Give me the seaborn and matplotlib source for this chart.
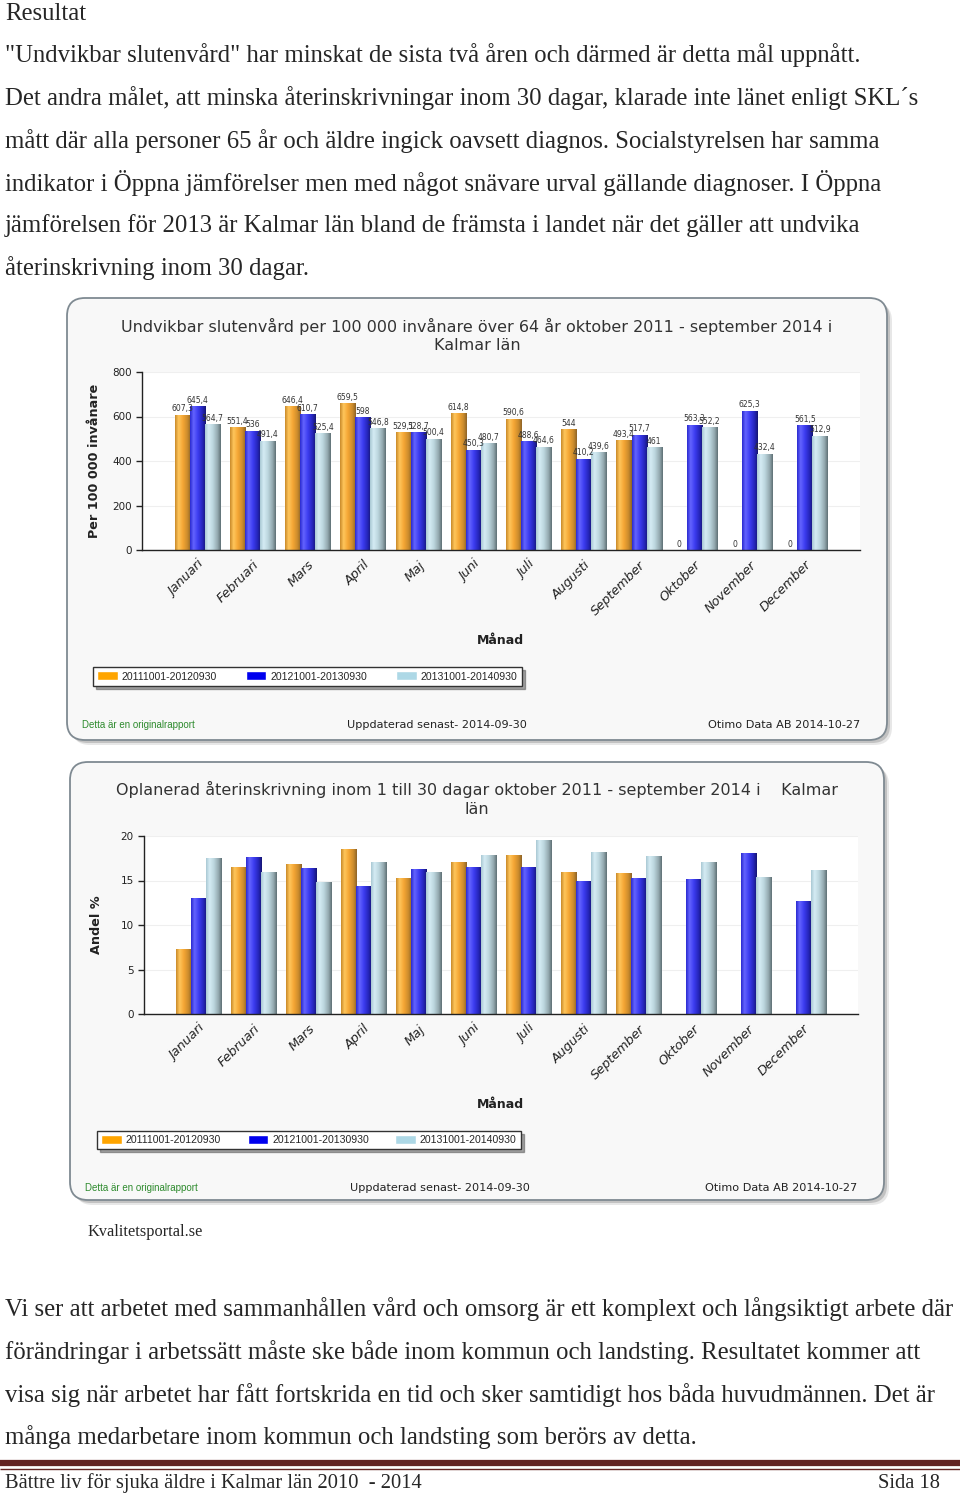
import numpy as np
import pandas as pd
import matplotlib
matplotlib.use("Agg")
import matplotlib.pyplot as plt
import seaborn as sns
from matplotlib import font_manager
from matplotlib.patches import FancyBboxPatch
from matplotlib.colors import LinearSegmentedColormap

# data
months = ["Januari", "Februari", "Mars", "April", "Maj", "Juni", "Juli",
          "Augusti", "September", "Oktober", "November", "December"]
periods = ["20111001-20120930", "20121001-20130930", "20131001-20140930"]

rate_p1 = [607.3, 551.4, 646.4, 659.5, 529.1, 614.8, 590.6, 544, 493.4, 0, 0, 0]
rate_p2 = [645.4, 536, 610.7, 598, 528.7, 450.3, 488.6, 410.2, 517.7, 563.3, 625.3, 561.5]
rate_p3 = [564.7, 491.4, 525.4, 546.8, 500.4, 480.7, 464.6, 439.6, 461, 552.2, 432.4, 512.9]

share_p1 = [7.3, 16.5, 16.8, 18.5, 15.3, 17.1, 17.9, 16.0, 15.8, 0, 0, 0]
share_p2 = [13.0, 17.6, 16.4, 14.4, 16.3, 16.5, 16.5, 14.9, 15.3, 15.2, 18.1, 12.7]
share_p3 = [17.5, 15.9, 14.8, 17.1, 15.9, 17.9, 19.6, 18.2, 17.8, 17.1, 15.4, 16.2]

intro_lines = [
    '"Undvikbar slutenvård" har minskat de sista två åren och därmed är detta mål uppnått.',
    'Det andra målet, att minska återinskrivningar inom 30 dagar, klarade inte länet enligt SKL´s',
    'mått där alla personer 65 år och äldre ingick oavsett diagnos. Socialstyrelsen har samma',
    'indikator i Öppna jämförelser men med något snävare urval gällande diagnoser. I Öppna',
    'jämförelsen för 2013 är Kalmar län bland de främsta i landet när det gäller att undvika',
    'återinskrivning inom 30 dagar.',
]
outro_lines = [
    'Vi ser att arbetet med sammanhållen vård och omsorg är ett komplext och långsiktigt arbete där',
    'förändringar i arbetssätt måste ske både inom kommun och landsting. Resultatet kommer att',
    'visa sig när arbetet har fått fortskrida en tid och sker samtidigt hos båda huvudmännen. Det är',
    'många medarbetare inom kommun och landsting som berörs av detta.',
]

palette = ["#FFA500", "#0000EE", "#ADD8E6"]
shades = [
    ["#C98A2A", "#FFC65C", "#F5A634", "#C98A2C", "#8E6428"],
    ["#2A2AD0", "#6464FF", "#3C3CF0", "#2424B8", "#161672"],
    ["#A9C8D4", "#D5ECF4", "#BCD6DE", "#93A8AE", "#5F7075"],
]

sns.set_theme(style="white")
names = {f.name for f in font_manager.fontManager.ttflist}
narrow = "Liberation Sans Narrow" if "Liberation Sans Narrow" in names else "Liberation Sans"
serif = "Liberation Serif"
plt.rcParams["font.family"] = ["DejaVu Sans"]

W, H = 960, 1494
fig = plt.figure(figsize=(W / 100, H / 100), dpi=100)
fig.patch.set_facecolor("white")

# page canvas in pixel units
bg = fig.add_axes([0, 0, 1, 1], zorder=0)
bg.set_xlim(0, W)
bg.set_ylim(H, 0)
bg.axis("off")


def px_axes(x0, y0, x1, y1):
    return fig.add_axes([x0 / W, 1 - y1 / H, (x1 - x0) / W, (y1 - y0) / H], zorder=2)


# page text
bg.text(5, 11, "Resultat", family=serif, fontsize=17.8, va="center_baseline")
for i, line in enumerate(intro_lines):
    bg.text(5, 53 + i * 42.6, line, family=serif, fontsize=17.8, va="center_baseline")
for i, line in enumerate(outro_lines):
    bg.text(5, 1307 + i * 42.6, line, family=serif, fontsize=17.8, va="center_baseline")
bg.text(88, 1230, "Kvalitetsportal.se", family=serif, fontsize=11.8, va="center_baseline")
bg.plot([0, 960], [1463, 1463], color="#632423", lw=4.5, solid_capstyle="butt")
bg.plot([0, 960], [1468.5, 1468.5], color="#632423", lw=1.0, solid_capstyle="butt")
bg.text(5, 1481, "Bättre liv för sjuka äldre i Kalmar län 2010  - 2014", family=serif,
        fontsize=14.8, va="center_baseline")
bg.text(940, 1481, "Sida 18", family=serif, fontsize=14.8, va="center_baseline", ha="right")


def draw_chart(frame, plot, titles, series, ylabel, ylim, yticks, labels_on, legend_box, foot_y):
    fx0, fy0, fx1, fy1 = frame
    # frame with a soft shadow
    for off, a in [(5, 0.18), (3, 0.35)]:
        bg.add_patch(FancyBboxPatch((fx0 + off, fy0 + off), fx1 - fx0, fy1 - fy0,
                                    boxstyle="round,pad=0,rounding_size=18",
                                    fc="#7d7d7d", ec="none", alpha=a, zorder=1))
    bg.add_patch(FancyBboxPatch((fx0, fy0), fx1 - fx0, fy1 - fy0,
                                boxstyle="round,pad=0,rounding_size=18",
                                fc="#F8F8F8", ec="#7F8A92", lw=1.3, zorder=1.5))
    cx = (fx0 + fx1) / 2
    for t, ty in titles:
        bg.text(cx, ty, t, fontsize=11.5, color="#333333", ha="center", va="center", zorder=3)

    df = pd.DataFrame({
        "month": months * 3,
        "value": series[0] + series[1] + series[2],
        "period": [p for p in periods for _ in months],
    })
    ax = px_axes(*plot)
    sns.barplot(data=df, x="month", y="value", hue="period", palette=palette,
                width=0.82, ax=ax, saturation=1)
    handles, labs = ax.get_legend_handles_labels()
    ax.set_facecolor("white")
    ax.set_xlim(-1, 12)
    ax.set_ylim(*ylim)

    # horizontal gradient on every bar
    grad = np.linspace(0, 1, 64)[None, :]
    for k, cont in enumerate(ax.containers):
        cm = LinearSegmentedColormap.from_list(f"g{k}", list(zip([0, 0.22, 0.5, 0.8, 1], shades[k])))
        for bar in cont:
            h = bar.get_height()
            if h <= 0:
                continue
            x, w = bar.get_x(), bar.get_width()
            im = ax.imshow(grad, extent=[x, x + w, 0, h], aspect="auto", cmap=cm,
                           interpolation="bilinear", zorder=bar.get_zorder() + 0.1)
            im.set_clip_path(bar)
        if labels_on:
            lbls = [f"{v:g}".replace(".", ",") for v in series[k]]
            ax.bar_label(cont, labels=lbls, fontsize=5.5, padding=1, color="#333333", zorder=5)
    ax.set_xlim(-1, 12)
    ax.set_ylim(*ylim)

    ax.set_yticks(yticks)
    ax.set_yticklabels([f"{v:g}" for v in yticks], fontsize=7.5, color="#222222")
    ax.set_xticks(range(12))
    ax.set_xticklabels(months, rotation=45, ha="right", rotation_mode="anchor",
                       fontsize=9.3, style="italic", color="#222222")
    ax.tick_params(axis="x", length=0, pad=6)
    ax.set_xticks([1, 3, 5, 7, 9, 11], minor=True)
    ax.tick_params(axis="x", which="minor", length=4, width=1, color="#222222", direction="out")
    ax.tick_params(axis="y", length=4, width=1, color="#222222", direction="out", left=True)
    ax.yaxis.grid(True, color="#EFEFEF", lw=0.8)
    ax.set_axisbelow(True)
    for s in ["top", "right"]:
        ax.spines[s].set_visible(False)
    for s in ["left", "bottom"]:
        ax.spines[s].set_color("#222222")
        ax.spines[s].set_linewidth(1)
    ax.set_xlabel("")
    ax.set_ylabel("")

    bg.text(plot[0] - 47, (plot[1] + plot[3]) / 2, ylabel, rotation=90, fontsize=9.2,
            fontweight="bold", ha="center", va="center", color="#222222", zorder=3)
    bg.text(500, plot[3] + 91, "Månad", fontsize=9, fontweight="bold",
            ha="center", va="center", color="#222222", zorder=3)

    lx0, ly0, lx1, ly1 = legend_box
    ax.legend(handles, labs, loc="center", mode="expand", ncol=3,
              bbox_to_anchor=(lx0 / W, 1 - ly1 / H, (lx1 - lx0) / W, (ly1 - ly0) / H),
              bbox_transform=fig.transFigure, frameon=True, fancybox=False, shadow=True,
              edgecolor="#333333", facecolor="white", framealpha=1,
              prop={"family": narrow, "size": 9 if narrow != "Liberation Sans" else 7.6},
              handlelength=1.9, handleheight=0.9, handletextpad=0.4, borderpad=0.4,
              columnspacing=1.2)
    ax.get_legend().get_frame().set_linewidth(1)

    bg.text(fx0 + 15, foot_y, "Detta är en originalrapport", family=narrow,
            fontsize=8 if narrow != "Liberation Sans" else 7, color="#2E8B2E",
            va="center", zorder=3)
    bg.text(fx0 + 280, foot_y, "Uppdaterad senast- 2014-09-30", fontsize=8.1,
            color="#222222", va="center", zorder=3)
    bg.text(fx1 - 27, foot_y, "Otimo Data AB 2014-10-27", fontsize=8.1,
            color="#222222", va="center", ha="right", zorder=3)
    return ax


draw_chart((67, 298, 887, 740), (142, 372, 860, 550),
           [("Undvikbar slutenvård per 100 000 invånare över 64 år oktober 2011 - september 2014 i", 326),
            ("Kalmar län", 346)],
           [rate_p1, rate_p2, rate_p3], "Per 100 000 invånare", (0, 800),
           [0, 200, 400, 600, 800], True, (88, 663, 527, 690), 725)

draw_chart((70, 762, 884, 1200), (144, 836, 858, 1014),
           [("Oplanerad återinskrivning inom 1 till 30 dagar oktober 2011 - september 2014 i    Kalmar", 789),
            ("län", 809)],
           [share_p1, share_p2, share_p3], "Andel %", (0, 20),
           [0, 5, 10, 15, 20], False, (92, 1127, 526, 1153), 1188)

fig.savefig("out.png", dpi=100, facecolor="white")
